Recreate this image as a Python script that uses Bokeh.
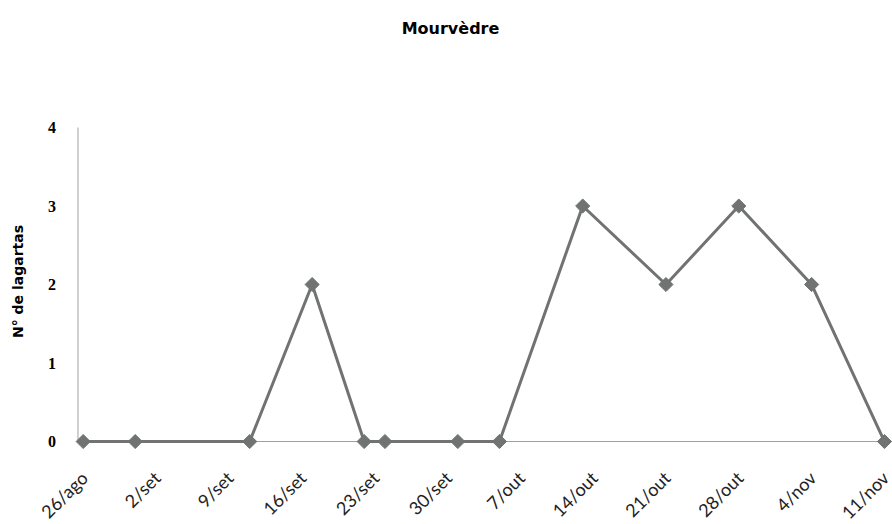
import numpy as np
import pandas as pd
from bokeh.plotting import figure
from bokeh.models import Range1d
from bokeh.core.properties import value
from bokeh.embed import file_html
from bokeh.resources import INLINE

# ---- data ----
title_text = "Mourvèdre"
y_label = "N° de lagartas"

tick_dates = ["2013-08-26", "2013-09-02", "2013-09-09", "2013-09-16", "2013-09-23",
              "2013-09-30", "2013-10-07", "2013-10-14", "2013-10-21", "2013-10-28",
              "2013-11-04", "2013-11-11"]
tick_labels = ["26/ago", "2/set", "9/set", "16/set", "23/set", "30/set", "7/out",
               "14/out", "21/out", "28/out", "4/nov", "11/nov"]

obs_dates = ["2013-08-26", "2013-08-31", "2013-09-11", "2013-09-17", "2013-09-22",
             "2013-09-24", "2013-10-01", "2013-10-05", "2013-10-13", "2013-10-21",
             "2013-10-28", "2013-11-04", "2013-11-11"]
n_lagartas = [0, 0, 0, 2, 0, 0, 0, 0, 3, 2, 3, 2, 0]

y_ticks = [0, 1, 2, 3, 4]
y_tick_labels = ["0", "1", "2", "3", "4"]

# ---- convert dates to day offsets from the first tick ----
origin = pd.Timestamp(tick_dates[0])
tick_days = [int((pd.Timestamp(d) - origin).days) for d in tick_dates]
obs_days = [int((pd.Timestamp(d) - origin).days) for d in obs_dates]
last_day = tick_days[-1]

W, H = 892, 524
x0, x1 = -7.947, last_day + 0.77
y0, y1 = -1.057, 5.618
p = figure(width=W, height=H, output_backend="svg", toolbar_location=None,
           x_range=Range1d(x0, x1), y_range=Range1d(y0, y1),
           min_border=0)
p.outline_line_color = None
p.grid.visible = False
p.axis.visible = False
p.background_fill_color = "white"
p.border_fill_color = "white"

axis_col = "#a0a0a0"
ax_x = -0.5  # position of the value axis (half a day before the first date)
y_top = y_ticks[-1]
# axis lines
p.segment(x0=[ax_x, ax_x], y0=[0, 0], x1=[ax_x, x1], y1=[y_top, 0],
          line_color=axis_col, line_width=1)

# date tick labels, rotated, below the horizontal axis
p.text(x=tick_days, y=[0] * len(tick_days), text=tick_labels, angle=np.pi / 4,
       text_align="right", text_baseline="middle", x_offset=1, y_offset=33,
       text_font=value("Lato"), text_font_size="18px", text_color="#222222")

# value tick labels
p.text(x=[ax_x] * len(y_ticks), y=y_ticks, text=y_tick_labels,
       text_align="right", text_baseline="middle", x_offset=-22, y_offset=0,
       text_font=value("Liberation Serif"), text_font_style="bold",
       text_font_size="16px", text_color="#000000")

# value axis title
p.text(x=[ax_x], y=[(y_ticks[0] + y_ticks[-1]) / 2], text=[y_label], angle=np.pi / 2,
       text_align="center", text_baseline="middle", x_offset=-60, y_offset=-3,
       text_font=value("DejaVu Sans"), text_font_style="bold",
       text_font_size="14px", text_color="#000000")

# series
col = "#717373"
p.line(obs_days, n_lagartas, line_color=col, line_width=3)
p.scatter(obs_days, n_lagartas, marker="square", angle=np.pi / 4, size=10,
          fill_color=col, line_color=col)

# chart title (centred at top of the canvas)
p.text(x=[(x0 + x1) / 2], y=[y1], text=[title_text],
       text_align="center", text_baseline="middle", x_offset=4, y_offset=28,
       text_font=value("DejaVu Sans"), text_font_style="bold",
       text_font_size="16px", text_color="#000000")

open("out.html", "w").write(file_html(p, INLINE))
